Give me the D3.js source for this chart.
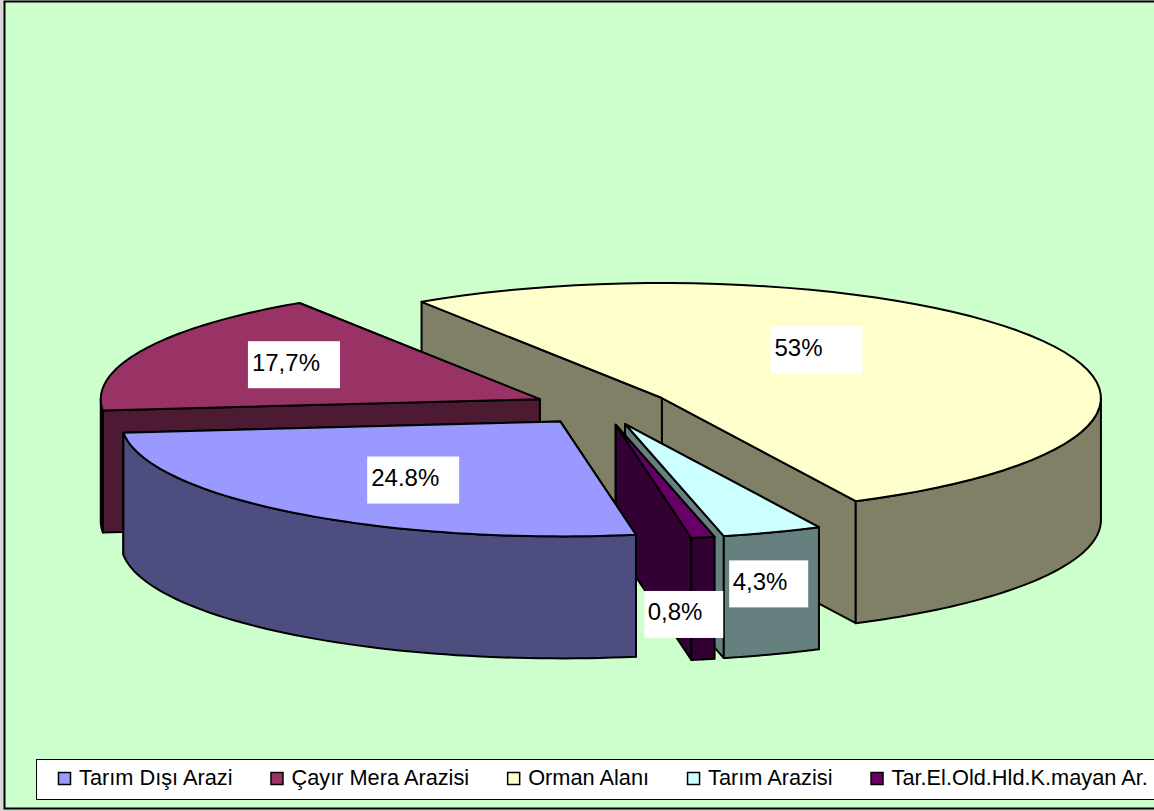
<!DOCTYPE html>
<html>
<head>
<meta charset="utf-8">
<script src="https://cdnjs.cloudflare.com/ajax/libs/d3/7.8.5/d3.min.js"></script>
<style>
  html, body { margin: 0; padding: 0; background: #d9d9d9; overflow: hidden; }
  svg { display: block; }
  text { font-family: "Liberation Sans", Arial, sans-serif; fill: #000; }
</style>
</head>
<body>
<svg id="chart" width="1154" height="811"></svg>
<script>
const categories = ['Tarım Dışı Arazi', 'Çayır Mera Arazisi', 'Orman Alanı', 'Tarım Arazisi', 'Tar.El.Old.Hld.K.mayan Ar.'];
// the printed labels do not add up to the wedges that are drawn, so both are kept
const shareLabels = ['24.8%', '17,7%', '53%', '4,3%', '0,8%'];
const wedgeShares = [26.2, 17.34, 51.95, 3.67, 0.85];
const colors = ['#9999ff', '#993366', '#ffffcc', '#ccffff', '#660066'];

const width = 1154;
const height = 811;
const cx = 602;
const cy = 407;
const rx = 439;
const ry = 115;
const depth = 122;
const explode = 69;
const firstAngle = -33.2 * Math.PI / 180; // Orman Alanı starts here
const frontAngle = Math.PI / 2;

// label boxes, centre relative to the wedge apex in radius units
const labelSpots = [[-0.335, 0.51], [-0.56, -0.3], [0.352, -0.42], [0.327, 1.39], [0.155, 1.65]];

const svg = d3.select('#chart');

svg.append('rect')
  .attr('x', 4.5).attr('y', 1.5)
  .attr('width', width).attr('height', 807)
  .attr('fill', '#ccffcc')
  .attr('stroke', '#000')
  .attr('stroke-width', 2);

// wedges start at Orman Alanı and run clockwise, same order as the sheet
const order = [2, 3, 4, 0, 1];
const pie = d3.pie()
  .value(d => wedgeShares[d])
  .sort((a, b) => order.indexOf(a) - order.indexOf(b))
  .startAngle(firstAngle)
  .endAngle(firstAngle + 2 * Math.PI);

const slices = pie(categories.map((d, i) => i));

const darker = c => {
  const rgb = d3.rgb(c);
  return d3.rgb(rgb.r / 2, rgb.g / 2, rgb.b / 2).formatHex();
};

const rim = (s, a) => [s.x + rx * Math.sin(a), s.y - ry * Math.cos(a)];
const arcPoints = (s, a0, a1) => d3.range(0, 61).map(k => rim(s, a0 + (a1 - a0) * k / 60));
const lowered = pts => pts.map(p => [p[0], p[1] + depth]);
const line = d3.line();

slices.forEach(s => {
  const mid = (s.startAngle + s.endAngle) / 2;
  s.x = cx + explode * Math.sin(mid);
  s.y = cy - explode * Math.cos(mid) * ry / rx;
});

const drawOrder = [2, 1, 3, 4, 0];

const groups = svg.selectAll('.wedge')
  .data(drawOrder.map(i => slices.find(s => s.data === i)))
  .enter().append('g')
  .attr('class', 'wedge');

groups.each(function(s) {
  const g = d3.select(this);
  const color = colors[s.data];
  const wall = darker(color);
  const apex = [s.x, s.y];

  // radial walls, the one further back goes down first
  [s.startAngle, s.endAngle]
    .sort((a, b) => rim(s, a)[1] - rim(s, b)[1])
    .forEach(a => {
      const p = rim(s, a);
      g.append('path')
        .attr('d', line([apex, p, [p[0], p[1] + depth], [apex[0], apex[1] + depth]]) + 'Z')
        .attr('fill', wall)
        .attr('stroke', '#000')
        .attr('stroke-width', 2)
        .attr('stroke-linejoin', 'round');
    });

  // outer wall, only the part that faces the viewer
  const a0 = Math.max(s.startAngle, frontAngle);
  const a1 = Math.min(s.endAngle, frontAngle + Math.PI);
  if (a1 > a0) {
    const top = arcPoints(s, a0, a1);
    g.append('path')
      .attr('d', line(top.concat(lowered(top).reverse())) + 'Z')
      .attr('fill', wall)
      .attr('stroke', '#000')
      .attr('stroke-width', 2)
      .attr('stroke-linejoin', 'round');
  }

  g.append('path')
    .attr('d', line([apex].concat(arcPoints(s, s.startAngle, s.endAngle))) + 'Z')
    .attr('fill', color)
    .attr('stroke', '#000')
    .attr('stroke-width', 2)
    .attr('stroke-linejoin', 'round');
});

// data labels on white boxes
const labels = svg.selectAll('.share-label')
  .data(slices)
  .enter().append('g')
  .attr('class', 'share-label')
  .attr('transform', s => {
    const spot = labelSpots[s.data];
    return `translate(${s.x + spot[0] * rx},${s.y + spot[1] * ry})`;
  });

labels.append('rect')
  .attr('x', s => s.data === 3 || s.data === 4 ? -39.5 : -46)
  .attr('y', -23.5)
  .attr('width', s => s.data === 3 || s.data === 4 ? 79 : 92)
  .attr('height', 47)
  .attr('fill', '#fff');

labels.append('text')
  .attr('x', s => s.data === 3 || s.data === 4 ? -36 : -42)
  .attr('y', 6)
  .attr('font-size', 24)
  .text(s => shareLabels[s.data]);

// legend
const legend = svg.append('g');

legend.append('rect')
  .attr('x', 36.5).attr('y', 759.5)
  .attr('width', 1140).attr('height', 40)
  .attr('fill', '#fff')
  .attr('stroke', '#000')
  .attr('stroke-width', 1);

let legendX = 58;
categories.forEach((name, i) => {
  legend.append('rect')
    .attr('x', legendX + 0.5).attr('y', 772.5)
    .attr('width', 12).attr('height', 12)
    .attr('fill', colors[i])
    .attr('stroke', '#000')
    .attr('stroke-width', 1.5);

  const label = legend.append('text')
    .attr('x', legendX + 21)
    .attr('y', 785)
    .attr('font-size', 21.75)
    .text(name);

  legendX += 21 + label.node().getComputedTextLength() + 38;
});
</script>
</body>
</html>
